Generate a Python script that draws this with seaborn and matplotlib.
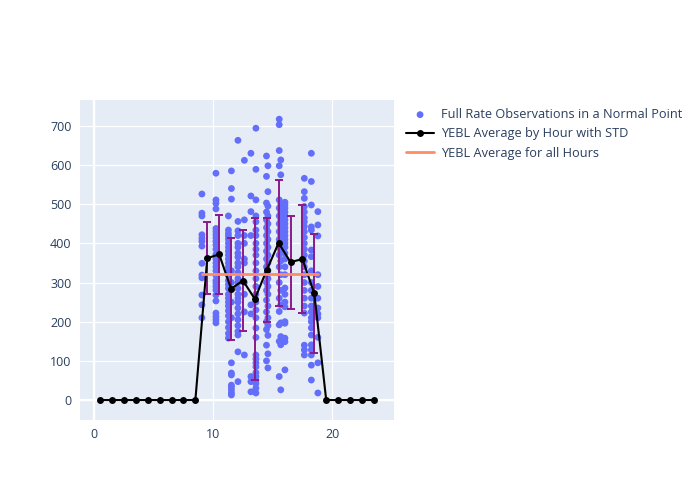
import numpy as np
import pandas as pd
import matplotlib
matplotlib.use("Agg")
import matplotlib.pyplot as plt
import seaborn as sns

# observation columns: (hour of day, full rate values)
col_9_05 = [526, 477, 470, 422, 413, 405, 393, 349, 319, 312, 268, 243, 210]
col_10_23 = [579, 511, 502, 488, 438, 430, 422, 414, 405, 396, 385, 372, 360, 350,
             340, 330, 318, 305, 298, 290, 281, 268, 253, 222, 213, 205, 197]
col_11_28 = [470, 434, 425, 418, 410, 400, 390, 380, 370, 360, 350, 340, 330, 318,
             305, 295, 285, 270, 260, 250, 240, 228, 215, 200, 185, 170, 158]
col_11_53 = [585, 540, 513, 330, 300, 250, 210, 95, 69, 64, 38, 33, 26, 18, 13]
col_12_08 = [663, 456, 432, 420, 400, 390, 375, 365, 350, 340, 325, 310, 300, 285,
             270, 260, 250, 235, 220, 205, 190, 175, 166, 123, 47]
col_12_62 = [612, 460, 420, 400, 360, 350, 300, 270, 225, 115]
col_13_17 = [630, 521, 481, 420, 243, 220, 60, 47, 21]
col_13_59 = [694, 589, 511, 470, 455, 434, 420, 400, 385, 370, 350, 330, 310, 290,
             270, 250, 230, 210, 184, 160, 115, 105, 95, 85, 70, 60, 50, 42, 30, 18]
col_14_48 = [623, 571, 503, 480, 460, 440, 420, 400, 380, 360, 340, 320, 300, 280,
             255, 225, 200, 180, 140, 100]
col_14_60 = [598, 532, 495, 470, 450, 430, 410, 390, 370, 350, 330, 310, 290, 270,
             240, 210, 190, 165, 118, 82]
col_15_55 = [717, 703, 637, 598, 511, 490, 470, 450, 430, 410, 390, 370, 340, 300,
             260, 226, 192, 150, 60]
col_15_68 = [613, 575, 500, 480, 460, 440, 420, 400, 380, 355, 320, 280, 243, 197,
             162, 141, 26]
col_16_03 = [505, 498, 490, 480, 470, 460, 450, 440, 430, 420, 410, 400, 390, 375,
             360, 340, 320, 286, 270, 250, 238, 200, 196, 158, 149, 77]
col_17_66 = [566, 532, 515, 494, 480, 465, 455, 443, 430, 415, 400, 385, 370, 355,
             340, 320, 300, 280, 260, 240, 222, 140, 128, 115]
col_18_25 = [630, 558, 498, 442, 434, 383, 366, 330, 300, 280, 260, 240, 225, 210,
             200, 184, 166, 141, 128, 115, 89, 51]
col_18_80 = [481, 447, 419, 320, 290, 260, 235, 220, 210, 160, 95, 18]

obs_columns = [(9.05, col_9_05), (10.23, col_10_23), (11.28, col_11_28),
               (11.53, col_11_53), (12.08, col_12_08), (12.62, col_12_62),
               (13.17, col_13_17), (13.59, col_13_59), (14.48, col_14_48),
               (14.60, col_14_60), (15.55, col_15_55), (15.68, col_15_68),
               (16.03, col_16_03), (17.66, col_17_66), (18.25, col_18_25),
               (18.80, col_18_80)]

# hourly average and std
hours = [0.5, 1.5, 2.5, 3.5, 4.5, 5.5, 6.5, 7.5, 8.5, 9.5, 10.5, 11.5,
         12.5, 13.5, 14.5, 15.5, 16.5, 17.5, 18.5, 19.5, 20.5, 21.5, 22.5, 23.5]
hour_avg = [0, 0, 0, 0, 0, 0, 0, 0, 0, 362, 372, 284,
            305, 258, 332, 401, 352, 360, 272, 0, 0, 0, 0, 0]
hour_std = [0, 0, 0, 0, 0, 0, 0, 0, 0, 92, 101, 130,
            130, 206, 133, 160, 119, 138, 153, 0, 0, 0, 0, 0]
overall_avg = 322

obs = pd.DataFrame(
    [(h, v) for h, vals in obs_columns for v in vals], columns=["hour", "rate"]
)

TEXT = "#2a3f5f"
sns.set_theme(style="darkgrid", rc={
    "axes.facecolor": "#E5ECF6",
    "figure.facecolor": "white",
    "grid.color": "white",
    "grid.linewidth": 0.9,
    "axes.edgecolor": "#E5ECF6",
    "xtick.color": TEXT,
    "ytick.color": TEXT,
    "text.color": TEXT,
})
plt.rcParams["font.family"] = ["Open Sans", "DejaVu Sans"]

fig = plt.figure(figsize=(7, 5), dpi=100)
ax = fig.add_axes([80 / 700, 80 / 500, 314 / 700, 320 / 500])

sns.scatterplot(data=obs, x="hour", y="rate", color="#636EFA", s=24,
                edgecolor="none", label="Full Rate Observations in a Normal Point",
                ax=ax, zorder=2)

sns.lineplot(x=hours, y=hour_avg, color="black", marker="o", markersize=5,
             markeredgewidth=0, linewidth=1.5,
             label="YEBL Average by Hour with STD", ax=ax, zorder=4)

h = np.array(hours)
m = np.array(hour_avg)
s = np.array(hour_std)
mask = s > 0
ax.errorbar(h[mask], m[mask], yerr=s[mask], fmt="none", ecolor="#8B1A8B",
            elinewidth=1.4, capsize=2.7, capthick=1.4, zorder=3)

sns.lineplot(x=[obs["hour"].min(), obs["hour"].max()], y=[overall_avg, overall_avg],
             color="#FF8C64", linewidth=2.0, label="YEBL Average for all Hours",
             ax=ax, zorder=5)

ax.axhline(0, color="white", linewidth=1.6, zorder=0.5)
ax.axvline(0, color="white", linewidth=1.6, zorder=0.5)

ax.set_xlim(-1.2, 25.2)
ax.set_ylim(-51, 766)
ax.set_xticks([0, 10, 20])
ax.set_yticks([0, 100, 200, 300, 400, 500, 600, 700])
ax.set_xlabel("")
ax.set_ylabel("")
ax.tick_params(axis="both", length=0, labelsize=9.0, pad=6)
for sp in ax.spines.values():
    sp.set_visible(False)

handles, labels = ax.get_legend_handles_labels()
ax.get_legend().remove()
fig.legend(handles, labels, loc="upper left", bbox_to_anchor=(406 / 700, 1 - 108 / 500),
           frameon=False, fontsize=9.2, labelcolor=TEXT, handlelength=2.2,
           handletextpad=0.55, labelspacing=0.5, borderpad=0, borderaxespad=0)

fig.savefig("out.png", dpi=100)
